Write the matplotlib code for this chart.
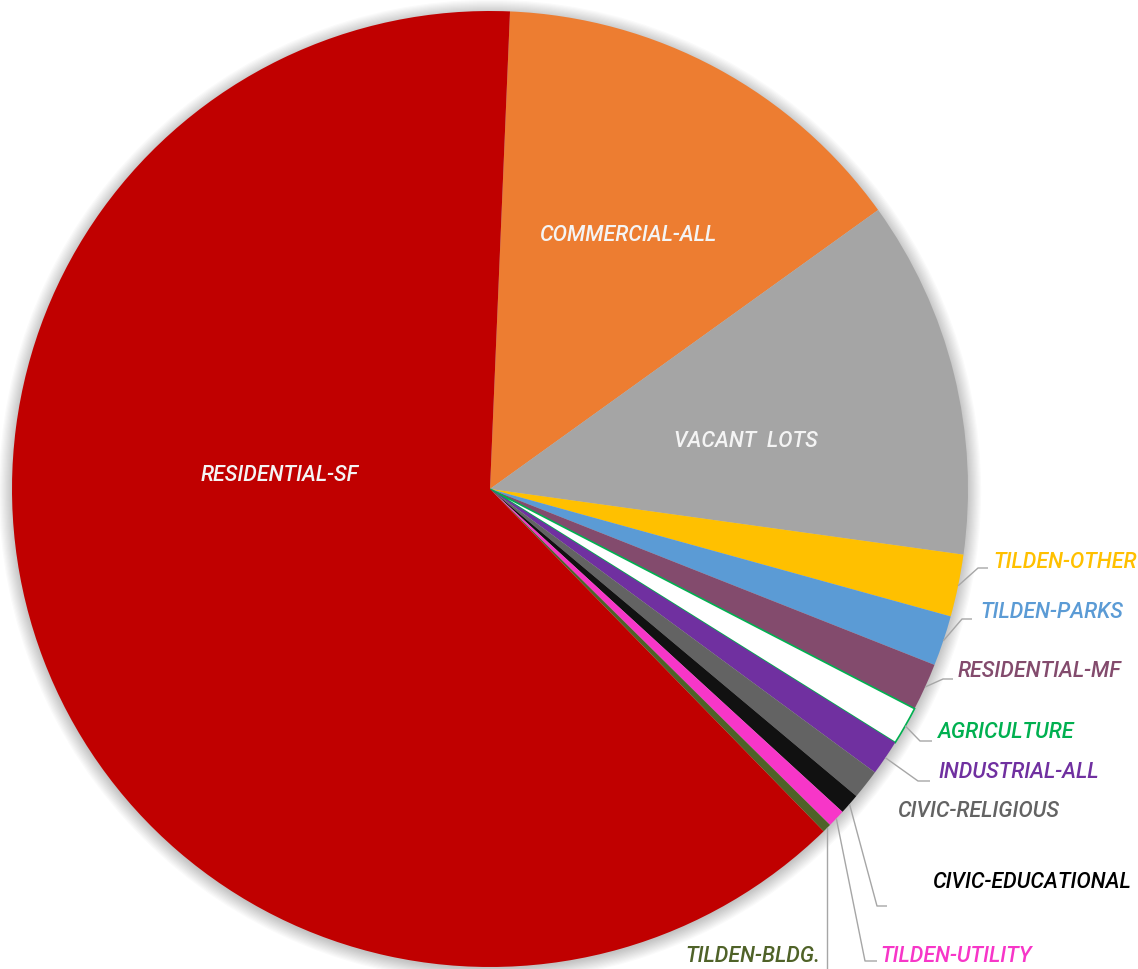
import numpy as np
import matplotlib.pyplot as plt
from matplotlib.patches import Circle

# Land use shares (percent), clockwise from the top
categories = ['COMMERCIAL-ALL', 'VACANT  LOTS', 'TILDEN-OTHER', 'TILDEN-PARKS',
              'RESIDENTIAL-MF', 'AGRICULTURE', 'INDUSTRIAL-ALL', 'CIVIC-RELIGIOUS',
              'CIVIC-EDUCATIONAL', 'TILDEN-UTILITY', 'TILDEN-BLDG.', 'RESIDENTIAL-SF']
shares = [14.4, 12.1, 2.1, 1.7, 1.6, 1.3, 1.2, 1.0, 0.7, 0.6, 0.3, 62.9]
colors = ['#ED7D31', '#A5A5A5', '#FFC000', '#5B9BD5', '#834B6D', '#FFFFFF',
          '#7030A0', '#636363', '#111111', '#F736C8', '#4F6228', '#C00000']
label_colors = ['#FFFFFF', '#FFFFFF', '#FFC000', '#5B9BD5', '#834B6D', '#00B050',
                '#7030A0', '#636363', '#000000', '#F736C8', '#4F6228', '#FFFFFF']

W, H = 1138, 970
CX, CY, R = 490, 490, 478


def px(x, y):
    # pixel position -> data coords (pie radius = 1)
    return (x - CX) / R, (CY - y) / R


font = dict(family=['Roboto', 'DejaVu Sans'], style='italic',
            fontsize=15.5, fontweight='medium')

fig = plt.figure(figsize=(W / 100, H / 100), dpi=100)
ax = fig.add_axes([0, 0, 1, 1])

# soft shadow around the pie
for k in range(12):
    ax.add_patch(Circle((0, -0.004), 1 + 0.0025 * k, color='#000000',
                        alpha=0.02, lw=0, zorder=0))

wedges, _ = ax.pie(shares, colors=colors, startangle=87.6, counterclock=False,
                   radius=1, wedgeprops=dict(linewidth=0))
for w in wedges:
    w.set_zorder(2)
wedges[5].set_edgecolor('#00B050')
wedges[5].set_linewidth(1.2)

# labels inside the big slices (pixel layout)
inside = {0: (628, 236), 1: (746, 442), 11: (280, 476)}
for i, (x, y) in inside.items():
    ax.text(*px(x, y), categories[i], color='#F4F4F4', ha='center', va='center',
            zorder=5, **font)

# outside labels: text anchor, leader elbow, leader end (pixels)
outside = {
    2: ((993, 563), (978, 569), 988),
    3: ((980, 613), (962, 620), 972),
    4: ((958, 672), (943, 680), 953),
    5: ((938, 733), (920, 742), 932),
    6: ((938, 773), (918, 782), 930),
    7: ((897, 812), None, None),
    8: ((932, 883), (877, 907), 887),
    9: ((880, 957), (865, 962), 877),
}
for i, (tpos, elbow, end) in outside.items():
    ax.text(*px(*tpos), categories[i], color=label_colors[i], ha='left',
            va='center', zorder=5, **font)
    if elbow is None:
        continue
    w = wedges[i]
    mid = np.deg2rad((w.theta1 + w.theta2) / 2)
    x0, y0 = np.cos(mid), np.sin(mid)
    ex, ey = px(*elbow)
    ax.plot([x0, ex, px(end, 0)[0]], [y0, ey, ey], color='#A6A6A6', lw=1,
            zorder=4, solid_capstyle='butt')

# TILDEN-BLDG. label with a vertical leader
w = wedges[10]
mid = np.deg2rad((w.theta1 + w.theta2) / 2)
x0, y0 = np.cos(mid), np.sin(mid)
ax.plot([x0, x0], [y0, px(0, 972)[1]], color='#A6A6A6', lw=1, zorder=4)
ax.text(*px(820, 957), categories[10], color=label_colors[10], ha='right',
        va='center', zorder=5, **font)

ax.set_xlim(-CX / R, (W - CX) / R)
ax.set_ylim(-(H - CY) / R, CY / R)
ax.set_aspect('auto')
ax.axis('off')

fig.savefig('out.png', dpi=100, facecolor='white')
